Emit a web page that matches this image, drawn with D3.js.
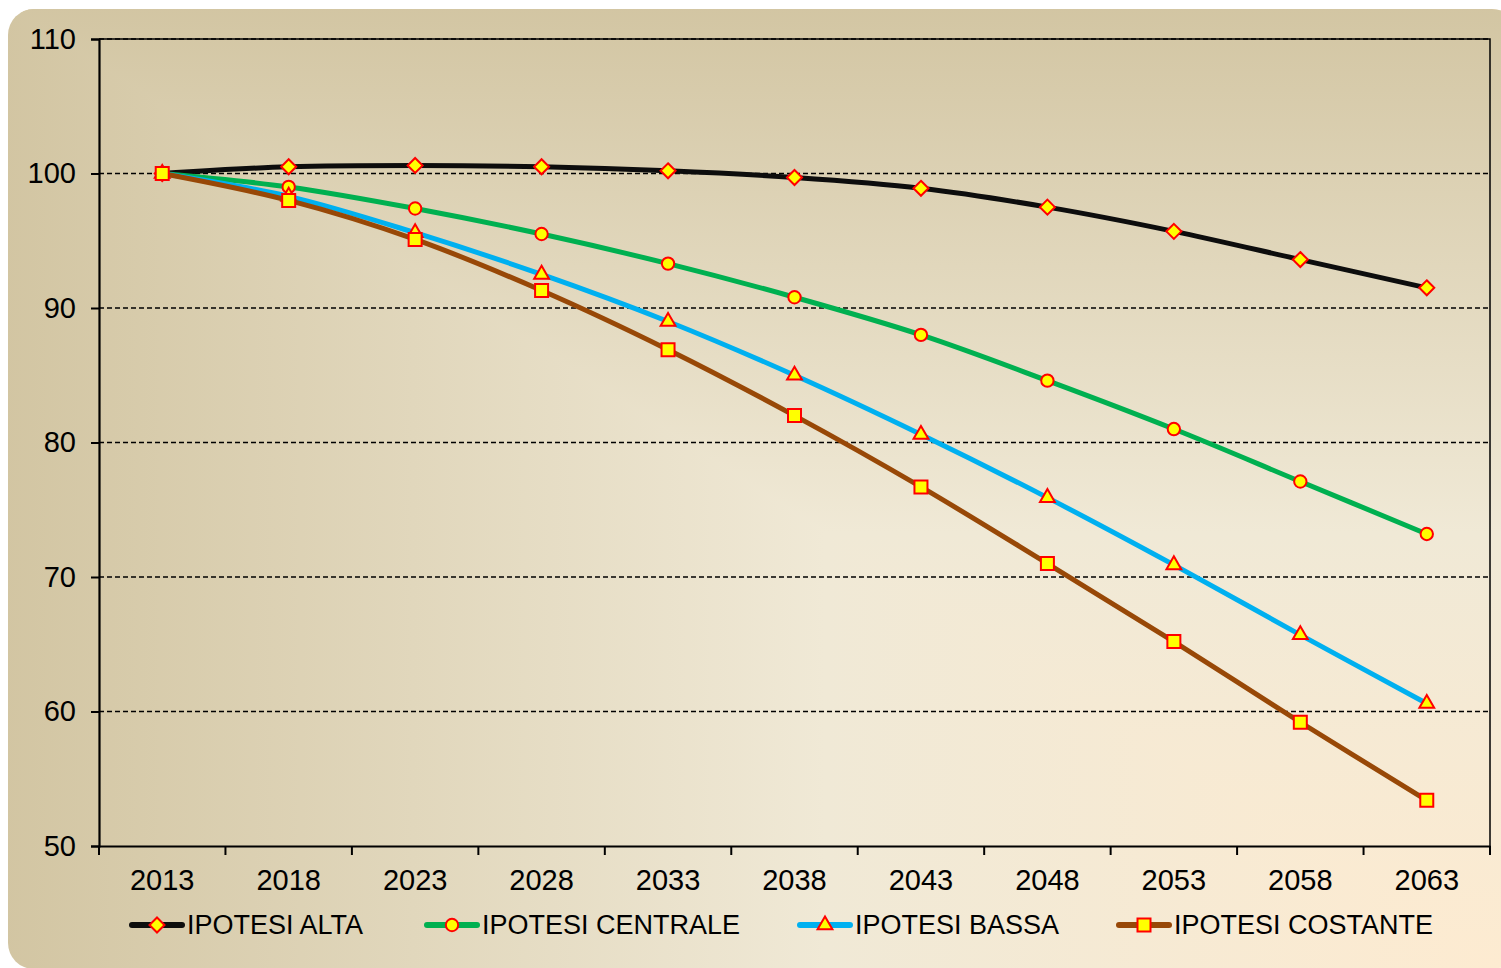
<!DOCTYPE html>
<html>
<head>
<meta charset="utf-8">
<script src="https://cdn.jsdelivr.net/npm/d3@7"></script>
<style>
  body { margin: 0; background: #ffffff; }
  svg { display: block; font-family: Arial, "Liberation Sans", sans-serif; }
</style>
</head>
<body>
<svg id="drawing_region"></svg>
<script>
// anni (categorie)
const years = ["2013","2018","2023","2028","2033","2038","2043","2048","2053","2058","2063"];
const yTicks = [50, 60, 70, 80, 90, 100, 110];

// serie (indice 2013 = 100)
const alta      = [100, 100.5, 100.6, 100.5, 100.2, 99.7, 98.9, 97.5, 95.7, 93.6, 91.5];
const centrale  = [100, 99.0, 97.4, 95.5, 93.3, 90.8, 88.0, 84.6, 81.0, 77.1, 73.2];
const bassa     = [100, 98.3, 95.6, 92.5, 89.0, 85.0, 80.6, 75.9, 70.9, 65.7, 60.6];
const costante  = [100, 98.0, 95.1, 91.3, 86.9, 82.0, 76.7, 71.0, 65.2, 59.2, 53.4];

const seriesNames = ["IPOTESI ALTA", "IPOTESI CENTRALE", "IPOTESI BASSA", "IPOTESI COSTANTE"];
const seriesValues = [alta, centrale, bassa, costante];
const seriesColors = ["#0d0d0d", "#00b050", "#00b0f0", "#984807"];
const seriesMarkers = ["diamond", "circle", "triangle", "square"];

const W = 1501, H = 968;
const margin = {top: 39, right: 11, bottom: 122, left: 99};

const svg = d3.select("#drawing_region").attr("width", W).attr("height", H);
const defs = svg.append("defs");

// sfondo: gradiente "dall'angolo" (basso-destra chiaro, bordi sinistro/alto scuri)
const stops = [[0, "#fdebd1"], [0.45, "#f0e9d6"], [1, "#d2c5a2"]];
const gv = defs.append("linearGradient").attr("id", "gv")
    .attr("gradientUnits", "userSpaceOnUse")
    .attr("x1", 0).attr("y1", H).attr("x2", 0).attr("y2", 0);
const gh = defs.append("linearGradient").attr("id", "gh")
    .attr("gradientUnits", "userSpaceOnUse")
    .attr("x1", W).attr("y1", 0).attr("x2", 0).attr("y2", 0);
[gv, gh].forEach(g => stops.forEach(s => g.append("stop").attr("offset", s[0]).attr("stop-color", s[1])));

defs.append("clipPath").attr("id", "bgclip")
    .append("rect").attr("x", 8).attr("y", 9).attr("width", 1510).attr("height", 960).attr("rx", 26);

const bg = svg.append("g").attr("clip-path", "url(#bgclip)");
bg.append("rect").attr("x", 0).attr("y", 0).attr("width", W).attr("height", H).attr("fill", "url(#gh)");
bg.append("path").attr("d", `M0,0 L${W},0 L${W},${H} Z`).attr("fill", "url(#gv)");

const x = d3.scaleBand().domain(years).range([margin.left, W - margin.right]);
const y = d3.scaleLinear().domain([50, 110]).range([H - margin.bottom, margin.top]);
const cx = d => x(d) + x.bandwidth() / 2;

// griglia tratteggiata
svg.append("g").selectAll("line")
    .data(yTicks.filter(t => t > 50))
    .join("line")
    .attr("x1", margin.left).attr("x2", W - margin.right)
    .attr("y1", d => y(d)).attr("y2", d => y(d))
    .attr("stroke", "#000").attr("stroke-width", 1.5)
    .attr("stroke-dasharray", "5,3");

// bordo superiore e destro
svg.append("path")
    .attr("d", `M${margin.left},${y(110)} H${W - margin.right} V${y(50)}`)
    .attr("fill", "none").attr("stroke", "#000").attr("stroke-width", 1.5);

// assi
const yAxis = svg.append("g")
    .attr("transform", `translate(${margin.left},0)`)
    .call(d3.axisLeft(y).tickValues(yTicks).tickSize(8).tickPadding(15));
const xAxis = svg.append("g")
    .attr("transform", `translate(0,${y(50)})`)
    .call(d3.axisBottom(x).tickSize(0).tickPadding(34));
xAxis.selectAll(".tick").remove();
xAxis.append("g").selectAll("line")
    .data(years.map((d, i) => x.range()[0] + i * x.step()).concat([x.range()[1]]))
    .join("line")
    .attr("x1", d => d).attr("x2", d => d).attr("y1", 0).attr("y2", 9)
    .attr("stroke", "#000").attr("stroke-width", 2);
xAxis.append("g").selectAll("text")
    .data(years)
    .join("text")
    .attr("x", d => cx(d)).attr("y", 44)
    .attr("text-anchor", "middle")
    .attr("fill", "#000")
    .style("font-size", "29px")
    .text(d => d);

[yAxis, xAxis].forEach(a => {
    a.select(".domain").attr("stroke", "#000").attr("stroke-width", 2.2);
});
yAxis.selectAll(".tick line").attr("stroke", "#000").attr("stroke-width", 2);
yAxis.selectAll(".tick text").style("font-size", "29px").attr("fill", "#000");

// simboli
function markerPath(type) {
    if (type === "diamond") return "M0,-7.5 L7.5,0 L0,7.5 L-7.5,0 Z";
    if (type === "circle") return d3.symbol(d3.symbolCircle, 120)();
    if (type === "triangle") return d3.symbol(d3.symbolTriangle, 95)();
    return "M-6.5,-6.5 H6.5 V6.5 H-6.5 Z";
}

const line = d3.line()
    .x((d, i) => cx(years[i]))
    .y(d => y(d))
    .curve(d3.curveCatmullRom.alpha(0.5));

seriesValues.forEach((vals, k) => {
    const g = svg.append("g");
    g.append("path")
        .attr("d", line(vals))
        .attr("fill", "none")
        .attr("stroke", seriesColors[k])
        .attr("stroke-width", 5)
        .attr("stroke-linejoin", "round");
    g.selectAll("path.m")
        .data(vals)
        .join("path")
        .attr("class", "m")
        .attr("transform", (d, i) => `translate(${cx(years[i])},${y(d)})`)
        .attr("d", markerPath(seriesMarkers[k]))
        .attr("fill", "#ffff00")
        .attr("stroke", "#ff0000")
        .attr("stroke-width", 2);
});

// legenda
const legendX = [130, 425, 798, 1117];
const legend = svg.append("g").attr("transform", "translate(0,925)");
seriesNames.forEach((name, k) => {
    const item = legend.append("g").attr("transform", `translate(${legendX[k]},0)`);
    item.append("line")
        .attr("x1", 2).attr("x2", 52).attr("y1", 0).attr("y2", 0)
        .attr("stroke", seriesColors[k]).attr("stroke-width", 6)
        .attr("stroke-linecap", "round");
    item.append("path")
        .attr("transform", "translate(27,0)")
        .attr("d", markerPath(seriesMarkers[k]))
        .attr("fill", "#ffff00").attr("stroke", "#ff0000").attr("stroke-width", 2);
    item.append("text")
        .attr("x", 57).attr("y", 9)
        .style("font-size", "27px")
        .attr("fill", "#000")
        .text(name);
});
</script>
</body>
</html>
